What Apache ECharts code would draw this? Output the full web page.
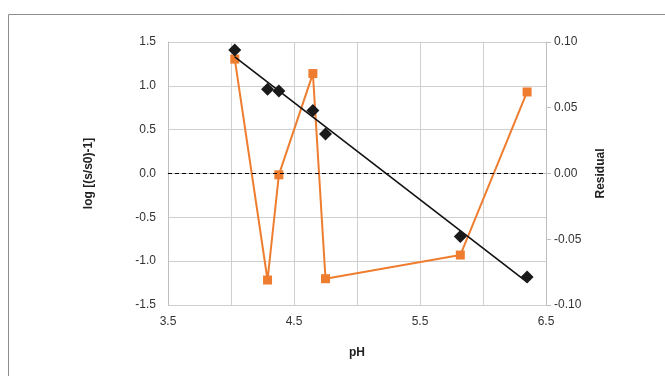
<!DOCTYPE html>
<html>
<head>
<meta charset="utf-8">
<script src="https://cdn.jsdelivr.net/npm/echarts@6/dist/echarts.min.js"></script>
<style>
html,body{margin:0;padding:0;background:#fff;}
#chart{width:665px;height:376px;}
</style>
</head>
<body>
<div id="chart"></div>
<script>
// Data
const pH = [4.03, 4.29, 4.38, 4.65, 4.75, 5.82, 6.35];
const logValues = [1.41, 0.96, 0.94, 0.72, 0.45, -0.72, -1.18];
const residuals = [0.087, -0.081, -0.001, 0.076, -0.080, -0.062, 0.062];
const fitX = [4.03, 6.35];
const fitY = [1.33, -1.24];
const xTicks = [3.5, 4.5, 5.5, 6.5];

const pts = pH.map((x, i) => [x, logValues[i]]);
const resPts = pH.map((x, i) => [x, residuals[i]]);
const fitPts = fitX.map((x, i) => [x, fitY[i]]);

const font = 'Liberation Sans, Arial, sans-serif';
const chart = echarts.init(document.getElementById('chart'));
chart.setOption({
  animation: false,
  backgroundColor: '#fff',
  graphic: [{
    type: 'rect', left: 6, top: 12,
    shape: {width: 700, height: 400},
    style: {fill: 'none', stroke: '#8c8c8c', lineWidth: 1},
    silent: true
  }],
  grid: {left: 168, right: 119, top: 42, bottom: 71},
  xAxis: {
    type: 'value', min: 3.5, max: 6.5, interval: 0.5,
    name: 'pH', nameLocation: 'middle', nameGap: 42,
    nameTextStyle: {fontFamily: font, fontSize: 12, fontWeight: 'bold', color: '#222'},
    axisLine: {show: true, lineStyle: {color: '#bfbfbf'}},
    axisTick: {show: true, length: 4, lineStyle: {color: '#bfbfbf'}, interval: 0},
    axisLabel: {fontFamily: font, fontSize: 12, color: '#333', margin: 11,
      formatter: v => (xTicks.some(t => Math.abs(t - v) < 1e-6) ? v.toFixed(1) : '')},
    splitLine: {show: true, lineStyle: {color: '#cfcfcf', width: 1}}
  },
  yAxis: [{
    type: 'value', min: -1.5, max: 1.5, interval: 0.5,
    name: 'log [(s/s0)-1]', nameLocation: 'middle', nameGap: 73, nameRotate: 90,
    nameTextStyle: {fontFamily: font, fontSize: 12, fontWeight: 'bold', color: '#222'},
    axisLine: {show: true, lineStyle: {color: '#bfbfbf'}},
    axisTick: {show: false},
    axisLabel: {fontFamily: font, fontSize: 12, color: '#333', margin: 12,
      formatter: v => v.toFixed(1)},
    splitLine: {show: true, lineStyle: {color: '#cfcfcf', width: 1}}
  }, {
    type: 'value', min: -0.1, max: 0.1, interval: 0.05, position: 'right',
    name: 'Residual', nameLocation: 'middle', nameGap: 49, nameRotate: 90,
    nameTextStyle: {fontFamily: font, fontSize: 12, fontWeight: 'bold', color: '#222'},
    axisLine: {show: true, lineStyle: {color: '#bfbfbf'}},
    axisTick: {show: true, length: 5, lineStyle: {color: '#bfbfbf'}},
    axisLabel: {fontFamily: font, fontSize: 12, color: '#333', margin: 8,
      formatter: v => v.toFixed(2)},
    splitLine: {show: false}
  }],
  series: [{
    type: 'line', yAxisIndex: 1, data: resPts,
    symbol: 'rect', symbolSize: 9,
    itemStyle: {color: '#ee7d2f', opacity: 1},
    lineStyle: {color: '#ee7d2f', width: 2},
    z: 2,
    markLine: {
      silent: true, symbol: 'none', label: {show: false},
      lineStyle: {color: '#000', type: [4, 3], width: 1},
      data: [{yAxis: 0}]
    }
  }, {
    type: 'line', yAxisIndex: 0, data: fitPts,
    symbol: 'none', lineStyle: {color: '#111', width: 1.6}, z: 3
  }, {
    type: 'scatter', yAxisIndex: 0, data: pts,
    symbol: 'diamond', symbolSize: 13,
    itemStyle: {color: '#1a1a1a', opacity: 1}, z: 4
  }]
});
</script>
</body>
</html>
